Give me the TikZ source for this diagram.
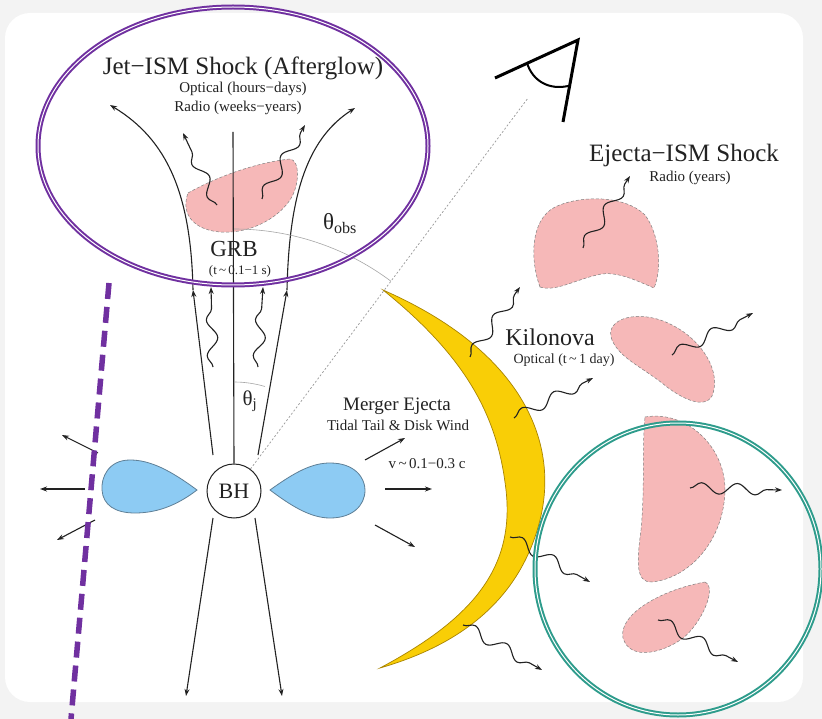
\documentclass[tikz,border=0pt]{standalone}
\usepackage{fontspec}
\setmainfont{Liberation Serif}
\usetikzlibrary{arrows.meta,decorations.pathmorphing,calc}

\definecolor{pagegray}{HTML}{F3F3F3}
\definecolor{shockpink}{HTML}{F6B8B8}
\definecolor{lobeblue}{HTML}{8DCBF3}
\definecolor{lobeedge}{HTML}{5E7F96}
\definecolor{novagold}{HTML}{F9CE06}
\definecolor{novaedge}{HTML}{A98400}
\definecolor{ringpurple}{HTML}{7030A0}
\definecolor{ringteal}{HTML}{2E9C8C}
\definecolor{inkgray}{HTML}{222222}

\begin{document}
\begin{tikzpicture}[x=1pt,y=-1pt,
  arrowhd/.style={-{Stealth[length=7pt,width=5pt]}},
  flow/.style={arrowhd, line width=1.1pt, draw=inkgray},
  photon/.style={arrowhd, line width=1.1pt, draw=inkgray, decorate,
    decoration={snake, amplitude=5.5pt, segment length=36pt, post length=6pt}},
  shock/.style={fill=shockpink, draw=gray, densely dashed, line width=0.5pt},
  lobe/.style={fill=lobeblue, draw=lobeedge, line width=0.8pt},
  lbl/.style={anchor=base, inner sep=0pt, text=inkgray},
  ring/.style={line width=2pt, double=white, double distance=1pt},
  guide/.style={draw=gray!70, line width=0.6pt},
]
% page and card
\fill[pagegray] (0,0) rectangle (822,719);
\fill[white, rounded corners=25pt] (5,13) rectangle (803,702);
\useasboundingbox (0,0) rectangle (822,719);

% ---------- jet ----------
\path[shock] (188,193) .. controls (220,175) and (260,162) .. (290,159)
  .. controls (300,160) and (300,185) .. (290,200)
  .. controls (275,222) and (245,234) .. (220,232)
  .. controls (195,230) and (180,215) .. (188,193) -- cycle;

\node[draw=inkgray, line width=1pt, circle, minimum size=54pt, inner sep=0pt,
  font=\fontsize{22}{24}\selectfont, text=inkgray] (bh) at (234,491) {BH};

\coordinate (axtop) at (233,132);
\coordinate (jl0) at (213,455); \coordinate (jl1) at (193,290); \coordinate (jlt) at (110,105);
\coordinate (jr0) at (258,455); \coordinate (jr1) at (287,290); \coordinate (jrt) at (355,108);
\coordinate (bl0) at (213,518); \coordinate (bl1) at (186,696);
\coordinate (br0) at (255,518); \coordinate (br1) at (282,696);

\draw[inkgray, line width=1.1pt] (bh.north) -- (axtop);
\draw[flow] (jl0) -- (jl1);
\draw[flow] (jr0) -- (jr1);
\draw[flow] (jl1) .. controls (191,195) and (168,140) .. (jlt);
\draw[flow] (jr1) .. controls (289,200) and (305,140) .. (jrt);
\draw[flow] (bl0) -- (bl1);
\draw[flow] (br0) -- (br1);

% GRB photons
\coordinate (g1a) at (213,367); \coordinate (g1b) at (211,287);
\coordinate (g2a) at (258,367); \coordinate (g2b) at (263,287);
\draw[photon] (g1a) -- (g1b);
\draw[photon] (g2a) -- (g2b);
% afterglow photons
\coordinate (a1a) at (217,205); \coordinate (a1b) at (183,133);
\coordinate (a2a) at (262,199); \coordinate (a2b) at (305,125);
\draw[photon] (a1a) -- (a1b);
\draw[photon] (a2a) -- (a2b);

% angles
\draw[guide] (234,229) arc[start angle=-90, end angle=-53.2, radius=262];
\draw[guide] (234,382) arc[start angle=-90, end angle=-73.5, radius=109];

% line of sight and observer
\coordinate (eyeA) at (495,78); \coordinate (eyeB) at (578,40); \coordinate (eyeC) at (563,122);
\coordinate (los) at (528,98);
\draw[gray!80, line width=0.7pt, dash pattern=on 2pt off 2pt] (bh) -- (los);
\draw[black, line width=3pt, line join=miter] (eyeA) -- (eyeB) -- (eyeC);
\draw[black, line width=2pt] (527,63) .. controls (533,82) and (550,90) .. (568,86);

% ---------- merger ejecta ----------
\path[lobe] (197,490) .. controls (170,470) and (150,460) .. (130,460)
  .. controls (108,460) and (101,478) .. (102,490)
  .. controls (103,505) and (115,513) .. (135,513)
  .. controls (160,513) and (180,503) .. (197,490) -- cycle;
\path[lobe] (270,490) .. controls (295,472) and (312,463) .. (330,463)
  .. controls (355,463) and (365,478) .. (365,490)
  .. controls (365,506) and (352,518) .. (330,518)
  .. controls (310,518) and (290,505) .. (270,490) -- cycle;

\coordinate (w1a) at (98,453);  \coordinate (w1b) at (62,435);
\coordinate (w2a) at (85,489);  \coordinate (w2b) at (40,489);
\coordinate (w3a) at (95,520);  \coordinate (w3b) at (57,540);
\coordinate (e1a) at (365,460); \coordinate (e1b) at (405,438);
\coordinate (e2a) at (385,489); \coordinate (e2b) at (432,489);
\coordinate (e3a) at (375,525); \coordinate (e3b) at (415,547);
\foreach \s/\t in {w1a/w1b, w2a/w2b, w3a/w3b, e1a/e1b, e2a/e2b, e3a/e3b}
  \draw[flow] (\s) -- (\t);

% kilonova shell
\path[fill=novagold, draw=novaedge, line width=0.7pt]
  (383,290) .. controls (520,350) and (560,440) .. (540,520)
  .. controls (520,600) and (460,645) .. (380,668)
  .. controls (470,620) and (515,570) .. (506,490)
  .. controls (498,420) and (470,360) .. (383,290) -- cycle;

\coordinate (k1a) at (470,357); \coordinate (k1b) at (520,287);
\coordinate (k2a) at (514,418); \coordinate (k2b) at (593,378);
\coordinate (k3a) at (510,537); \coordinate (k3b) at (590,582);
\coordinate (k4a) at (463,625); \coordinate (k4b) at (542,670);
\foreach \s/\t in {k1a/k1b, k2a/k2b, k3a/k3b, k4a/k4b}
  \draw[photon] (\s) -- (\t);

% ejecta-ISM shocks
\path[shock] (540,287) .. controls (530,260) and (530,220) .. (555,207)
  .. controls (580,195) and (625,195) .. (645,215)
  .. controls (660,235) and (662,270) .. (654,288)
  .. controls (635,280) and (615,270) .. (597,275)
  .. controls (575,280) and (555,292) .. (540,287) -- cycle;
\path[shock] (612,340) .. controls (603,318) and (640,308) .. (672,325)
  .. controls (702,340) and (722,372) .. (712,396)
  .. controls (704,410) and (680,398) .. (662,383)
  .. controls (640,366) and (620,358) .. (612,340) -- cycle;
\path[shock] (645,417) .. controls (685,410) and (725,445) .. (725,490)
  .. controls (724,540) and (690,578) .. (652,582)
  .. controls (635,583) and (637,560) .. (641,530)
  .. controls (645,490) and (642,445) .. (645,417) -- cycle;
\path[shock] (705,582) .. controls (718,588) and (700,625) .. (683,638)
  .. controls (665,652) and (630,662) .. (623,638)
  .. controls (618,615) and (660,590) .. (705,582) -- cycle;

\coordinate (s1a) at (583,248); \coordinate (s1b) at (630,176);
\coordinate (s2a) at (672,355); \coordinate (s2b) at (753,313);
\coordinate (s3a) at (690,488); \coordinate (s3b) at (782,490);
\coordinate (s4a) at (658,620); \coordinate (s4b) at (738,662);
\foreach \s/\t in {s1a/s1b, s2a/s2b, s3a/s3b, s4a/s4b}
  \draw[photon] (\s) -- (\t);

% ---------- labels ----------
\node[lbl, font=\fontsize{25}{28}\selectfont] (tjet) at (243,75) {Jet−ISM Shock (Afterglow)};
\node[lbl, font=\fontsize{15}{17}\selectfont] (topt) at (243,93) {Optical (hours−days)};
\node[lbl, font=\fontsize{15}{17}\selectfont] (trad) at (238,112) {Radio (weeks−years)};
\node[lbl, font=\fontsize{23}{25}\selectfont] (tgrb) at (234,257) {GRB};
\node[lbl, font=\fontsize{13}{15}\selectfont] (tgrbt) at (240,275) {(t\,\textasciitilde\,0.1−1 s)};
\node[lbl, font=\fontsize{23}{25}\selectfont] (tobs) at (340,230) {θ\textsubscript{obs}};
\node[lbl, font=\fontsize{21}{23}\selectfont] (tj) at (250,405) {θ\textsubscript{j}};
\node[lbl, font=\fontsize{19}{21}\selectfont] (tmej) at (397,410) {Merger Ejecta};
\node[lbl, font=\fontsize{15}{17}\selectfont] (ttail) at (398,430) {Tidal Tail \& Disk Wind};
\node[lbl, font=\fontsize{15}{17}\selectfont] (tvel) at (427,468) {v\,\textasciitilde\,0.1−0.3 c};
\node[lbl, font=\fontsize{24}{27}\selectfont] (tkn) at (550,345) {Kilonova};
\node[lbl, font=\fontsize{14}{16}\selectfont] (tknopt) at (564,363) {Optical (t\,\textasciitilde\,1 day)};
\node[lbl, font=\fontsize{25}{28}\selectfont] (tej) at (684,162) {Ejecta−ISM Shock};
\node[lbl, font=\fontsize{15}{17}\selectfont] (tejr) at (690,182) {Radio (years)};

% ---------- highlight marks ----------
\draw[ring, ringpurple] (233,146) ellipse[x radius=195, y radius=139];
\draw[ring, ringteal] (678,569) ellipse[x radius=143, y radius=146];
\coordinate (cutA) at (109,283); \coordinate (cutB) at (71,719);
\draw[ringpurple, line width=5.5pt, dash pattern=on 16pt off 8pt] (cutA) -- (cutB);
\end{tikzpicture}
\end{document}
